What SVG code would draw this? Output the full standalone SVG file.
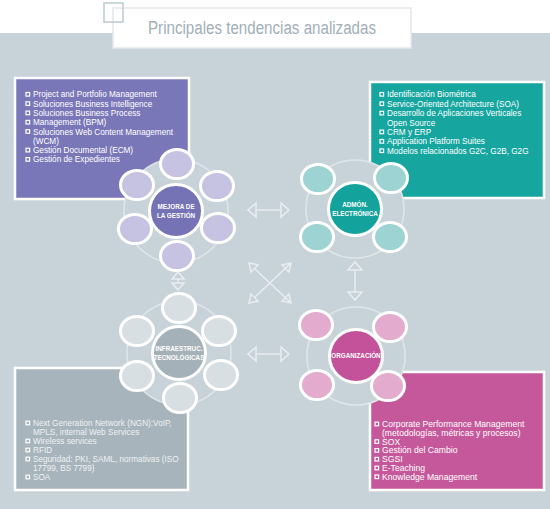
<svg xmlns="http://www.w3.org/2000/svg" width="550" height="509" viewBox="0 0 550 509">
<defs>
<style>
.bg{fill:#c8d3d9}
.box{stroke:#ffffff;stroke-width:2.5}
.ring{fill:#c8d3d9;stroke:#dfe6ea;stroke-width:1.5}
.sat{stroke:#ffffff;stroke-width:3}
.ctr{stroke:#ffffff;stroke-width:3}
.lbl{font-family:"Liberation Sans",Arial,sans-serif;font-weight:bold;font-size:6.3px;fill:#ffffff;text-anchor:middle}
.txt{font-family:"Liberation Sans",Arial,sans-serif;font-size:8.2px;fill:#ffffff}
.txtg{font-family:"Liberation Sans",Arial,sans-serif;font-size:8.2px;fill:#eef2f4}
.txtp{font-family:"Liberation Sans",Arial,sans-serif;font-size:8.6px;fill:#ffffff}
.bul{fill:none;stroke:#ffffff;stroke-width:1.2}
.arr{fill:none;stroke:#e8edf0;stroke-width:1.5;stroke-linejoin:miter}
</style>
</defs>
<rect x="0" y="0" width="550" height="509" fill="#ffffff"/>
<rect class="bg" x="0" y="33" width="550" height="476"/>

<g id="title">
<rect x="113" y="8" width="298" height="40" fill="#ffffff" stroke="#e2e8eb" stroke-width="1.5"/>
<rect x="104" y="3" width="19" height="19" fill="none" stroke="#bccad1" stroke-width="1.5"/>
<text x="148" y="34" font-family="'Liberation Sans',Arial,sans-serif" font-size="18" fill="#a2afb7" textLength="228" lengthAdjust="spacingAndGlyphs">Principales tendencias analizadas</text>
</g>

<g id="box-mejora">
<rect class="box" x="15" y="78" width="174" height="121" fill="#7a77b8"/>
<g class="bul">
<rect x="26" y="92.5" width="3.6" height="3.6"/>
<rect x="26" y="101.8" width="3.6" height="3.6"/>
<rect x="26" y="111.1" width="3.6" height="3.6"/>
<rect x="26" y="120.4" width="3.6" height="3.6"/>
<rect x="26" y="129.7" width="3.6" height="3.6"/>
<rect x="26" y="148.3" width="3.6" height="3.6"/>
<rect x="26" y="157.6" width="3.6" height="3.6"/>
</g>
<text class="txt" x="33" y="97.3">Project and Portfolio Management</text>
<text class="txt" x="33" y="106.6">Soluciones Business Intelligence</text>
<text class="txt" x="33" y="115.9">Soluciones Business Process</text>
<text class="txt" x="33" y="125.2">Management (BPM)</text>
<text class="txt" x="33" y="134.5">Soluciones Web Content Management</text>
<text class="txt" x="33" y="143.8">(WCM)</text>
<text class="txt" x="33" y="153.1">Gestión Documental (ECM)</text>
<text class="txt" x="33" y="162.4">Gestión de Expedientes</text>
</g>

<g id="box-admon">
<rect class="box" x="370" y="82" width="174" height="116" fill="#17a69f"/>
<g class="bul">
<rect x="380" y="92.5" width="3.6" height="3.6"/>
<rect x="380" y="101.9" width="3.6" height="3.6"/>
<rect x="380" y="111.3" width="3.6" height="3.6"/>
<rect x="380" y="130.1" width="3.6" height="3.6"/>
<rect x="380" y="139.5" width="3.6" height="3.6"/>
<rect x="380" y="148.9" width="3.6" height="3.6"/>
</g>
<text class="txt" x="387" y="97.3">Identificación Biométrica</text>
<text class="txt" x="387" y="106.7">Service-Oriented Architecture (SOA)</text>
<text class="txt" x="387" y="116.1">Desarrollo de Aplicaciones Verticales</text>
<text class="txt" x="387" y="125.5">Open Source</text>
<text class="txt" x="387" y="134.9">CRM y ERP</text>
<text class="txt" x="387" y="144.3">Application Platform Suites</text>
<text class="txt" x="387" y="153.7">Modelos relacionados G2C, G2B, G2G</text>
</g>

<g id="box-infra">
<rect class="box" x="15" y="368" width="173" height="122" fill="#a8b4bb"/>
<g class="bul" stroke="#eef2f4">
<rect x="26" y="421.2" width="3.6" height="3.6"/>
<rect x="26" y="439.2" width="3.6" height="3.6"/>
<rect x="26" y="448.2" width="3.6" height="3.6"/>
<rect x="26" y="457.2" width="3.6" height="3.6"/>
<rect x="26" y="475.2" width="3.6" height="3.6"/>
</g>
<text class="txtg" x="33" y="426">Next Generation Network (NGN):VoIP,</text>
<text class="txtg" x="33" y="435">MPLS, internal Web Services</text>
<text class="txtg" x="33" y="444">Wireless services</text>
<text class="txtg" x="33" y="453">RFID</text>
<text class="txtg" x="33" y="462">Seguridad: PKI, SAML, normativas (ISO</text>
<text class="txtg" x="33" y="471">17799, BS 7799)</text>
<text class="txtg" x="33" y="480">SOA</text>
</g>

<g id="box-org">
<rect class="box" x="370" y="372" width="174" height="118" fill="#c5589b"/>
<g class="bul">
<rect x="375" y="422.2" width="3.6" height="3.6"/>
<rect x="375" y="439.8" width="3.6" height="3.6"/>
<rect x="375" y="448.6" width="3.6" height="3.6"/>
<rect x="375" y="457.4" width="3.6" height="3.6"/>
<rect x="375" y="466.2" width="3.6" height="3.6"/>
<rect x="375" y="475.0" width="3.6" height="3.6"/>
</g>
<text class="txtp" x="382" y="427">Corporate Performance Management</text>
<text class="txtp" x="382" y="435.8">(metodologías, métricas y procesos)</text>
<text class="txtp" x="382" y="444.6">SOX</text>
<text class="txtp" x="382" y="453.4">Gestión del Cambio</text>
<text class="txtp" x="382" y="462.2">SGSI</text>
<text class="txtp" x="382" y="471">E-Teaching</text>
<text class="txtp" x="382" y="479.8">Knowledge Management</text>
</g>

<g id="hub-mejora">
<circle class="ring" cx="176" cy="211" r="52"/>
<g class="sat" fill="#c6c2e2">
<ellipse cx="177" cy="164" rx="16.5" ry="14.5"/>
<ellipse cx="217" cy="186" rx="16.5" ry="14.5"/>
<ellipse cx="218" cy="228" rx="16.5" ry="14.5"/>
<ellipse cx="177" cy="256" rx="16.5" ry="14.5"/>
<ellipse cx="135" cy="229" rx="16.5" ry="14.5"/>
<ellipse cx="137" cy="185" rx="16.5" ry="14.5"/>
</g>
<circle class="ctr" cx="176" cy="211" r="26.5" fill="#7572b5"/>
<text class="lbl" x="176" y="209">MEJORA DE</text>
<text class="lbl" x="176" y="217.5">LA GESTIÓN</text>
</g>

<g id="hub-admon">
<circle class="ring" cx="355" cy="209" r="49"/>
<g class="sat" fill="#9dd3d2">
<ellipse cx="318" cy="179" rx="16.5" ry="14.5"/>
<ellipse cx="391" cy="178" rx="16.5" ry="14.5"/>
<ellipse cx="317" cy="237" rx="16.5" ry="14.5"/>
<ellipse cx="390" cy="237" rx="16.5" ry="14.5"/>
</g>
<circle class="ctr" cx="355" cy="209" r="26.5" fill="#13a39c"/>
<text class="lbl" x="355" y="207">ADMÓN.</text>
<text class="lbl" x="355" y="215.5">ELECTRÓNICA</text>
</g>

<g id="hub-infra">
<circle class="ring" cx="179" cy="353" r="52"/>
<g class="sat" fill="#d8dfe3">
<ellipse cx="179" cy="308" rx="16.5" ry="14.5"/>
<ellipse cx="219" cy="331" rx="16.5" ry="14.5"/>
<ellipse cx="221" cy="375" rx="16.5" ry="14.5"/>
<ellipse cx="180" cy="398" rx="16.5" ry="14.5"/>
<ellipse cx="137" cy="376" rx="16.5" ry="14.5"/>
<ellipse cx="137" cy="331" rx="16.5" ry="14.5"/>
</g>
<circle class="ctr" cx="179" cy="353" r="26.5" fill="#a5b1b9"/>
<text class="lbl" x="179" y="351">INFRAESTRUC.</text>
<text class="lbl" x="179" y="359.5">TECNOLÓGICAS</text>
</g>

<g id="hub-org">
<circle class="ring" cx="356" cy="356" r="49"/>
<g class="sat" fill="#e3abcd">
<ellipse cx="316" cy="325" rx="16.5" ry="14.5"/>
<ellipse cx="390" cy="327" rx="16.5" ry="14.5"/>
<ellipse cx="317" cy="385" rx="16.5" ry="14.5"/>
<ellipse cx="388" cy="386" rx="16.5" ry="14.5"/>
</g>
<circle class="ctr" cx="356" cy="356" r="26.5" fill="#c3529a"/>
<text class="lbl" x="356" y="358.2">ORGANIZACIÓN</text>
</g>

<g id="connectors" class="arr">
<path d="M256,203 L248,210 L256,217 Z M256,210 L281,210 M281,203 L289,210 L281,217 Z"/>
<path d="M256,347 L248,354 L256,361 Z M256,354 L281,354 M281,347 L289,354 L281,361 Z"/>
<path d="M348,270 L355,262 L362,270 Z M355,270 L355,292 M348,292 L355,300 L362,292 Z"/>
<path d="M172,279 L178,272 L184,279 Z M178,279 L178,283 M172,283 L178,290 L184,283 Z"/>
<path d="M255,269 L291,303 M291,263 L255,297 M249,263 L258,265 L251,272 Z M291,303 L282,301 L289,294 Z M291,263 L289,272 L282,265 Z M249,303 L251,294 L258,301 Z"/>
</g>
</svg>
